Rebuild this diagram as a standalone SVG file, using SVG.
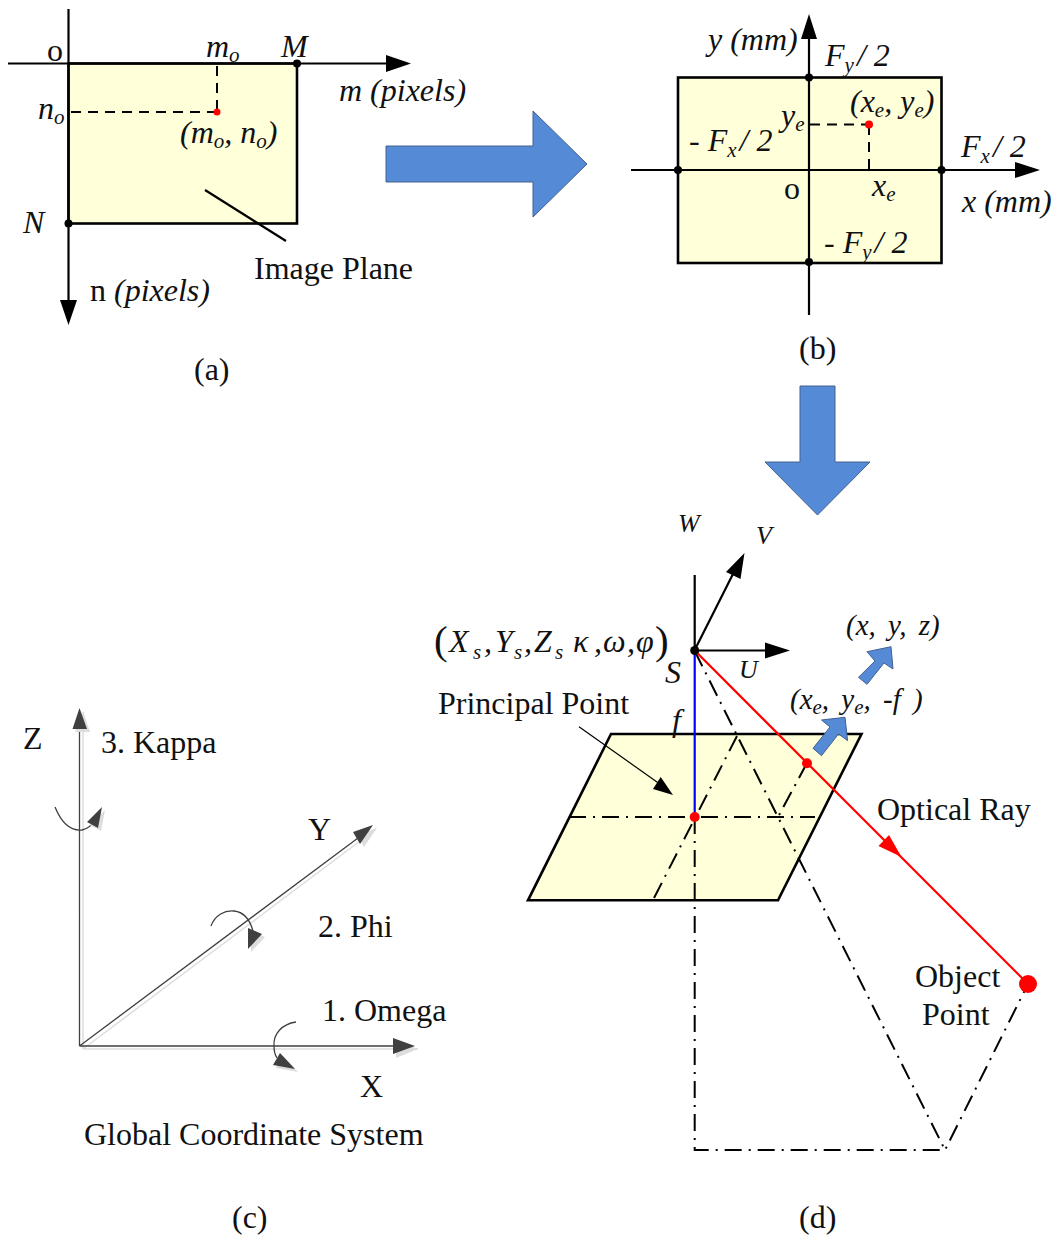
<svg xmlns="http://www.w3.org/2000/svg" width="1054" height="1238" viewBox="0 0 1054 1238">
<style>
text{font-family:"Liberation Serif","Times New Roman",serif;font-size:32px;fill:#111}
.i{font-style:italic}
.s{font-size:21px}
.n{font-style:normal}
.ax{stroke:#000;stroke-width:2.2;fill:none}
.pl{fill:#ffffd9;stroke:#000;stroke-width:2.6;stroke-linejoin:miter}
.da{stroke:#000;stroke-width:2;fill:none;stroke-dasharray:10 7}
.dd{stroke:#000;stroke-width:2;fill:none;stroke-dasharray:17 7 2 7}
.bl{fill:#558ad6;stroke:#44618f;stroke-width:1}
.dk{stroke:#404040;stroke-width:1.3;fill:none}
.sh{stroke:#ddd;stroke-width:1.5;fill:none}
.hd{fill:#404040}
.hs{fill:#ddd}
</style>
<g id="panel-a">
<rect class="pl" x="68.5" y="63.5" width="228.5" height="160"/>
<path class="ax" d="M8 63.5H388M68.5 9V302M205 190L286 241"/>
<path d="M386 55L411 63.5L386 72ZM60 300H77L68.5 325Z"/>
<path class="da" d="M217 66V112M217 112H70"/>
<circle cx="297" cy="63.5" r="4"/><circle cx="68.5" cy="223.5" r="4"/>
<circle cx="217" cy="112" r="3.5" fill="#f00"/>
<text x="47" y="61">o</text>
<text class="i" x="206" y="57">m<tspan class="s" dy="5">o</tspan></text>
<text class="i" x="281" y="57">M</text>
<text class="i" x="38" y="119">n<tspan class="s" dy="5">o</tspan></text>
<text class="i" x="180" y="143">(m<tspan class="s" dy="5">o</tspan><tspan dy="-5">, n</tspan><tspan class="s" dy="5">o</tspan><tspan dy="-5">)</tspan></text>
<text class="i" x="23" y="233">N</text>
<text class="i" x="339" y="101">m (pixels)</text>
<text x="90" y="301">n <tspan class="i">(pixels)</tspan></text>
<text x="254" y="279">Image Plane</text>
<text x="194" y="380">(a)</text>
</g>
<g id="arrow-right"><path class="bl" d="M386 146H533V111L587 164L533 217V182H386Z"/></g>
<g id="panel-b">
<rect class="pl" x="678" y="77.5" width="263.5" height="185.5"/>
<path class="ax" d="M631 170H1018M809 315V37"/>
<path d="M1015 162L1040 170L1015 178ZM801 39L809 14L817 39Z"/>
<path class="da" d="M810 124.5H869M869 125V170"/>
<circle cx="678" cy="170" r="4"/><circle cx="941.5" cy="170" r="4"/><circle cx="809" cy="77.5" r="4"/><circle cx="809" cy="262" r="4"/>
<circle cx="869" cy="124.5" r="4" fill="#f00"/>
<text class="i" x="708" y="50">y (mm)</text>
<text class="i" x="825" y="66">F<tspan class="s" dy="6">y</tspan><tspan dx="3" dy="-6">/ 2</tspan></text>
<text class="i" x="850" y="112">(x<tspan class="s" dy="5">e</tspan><tspan dy="-5">, y</tspan><tspan class="s" dy="5">e</tspan><tspan dy="-5">)</tspan></text>
<text class="i" x="781" y="126">y<tspan class="s" dy="5">e</tspan></text>
<text class="i" x="689" y="151">- F<tspan class="s" dy="6">x</tspan><tspan dx="3" dy="-6">/ 2</tspan></text>
<text class="i" x="961" y="157">F<tspan class="s" dy="6">x</tspan><tspan dx="3" dy="-6">/ 2</tspan></text>
<text x="784" y="199">o</text>
<text class="i" x="872" y="196">x<tspan class="s" dy="5">e</tspan></text>
<text class="i" x="962" y="212">x (mm)</text>
<text class="i" x="824" y="253">- F<tspan class="s" dy="6">y</tspan><tspan dx="3" dy="-6">/ 2</tspan></text>
<text x="799" y="359">(b)</text>
</g>
<g id="arrow-down"><path class="bl" d="M800 386H835V462H870L817.5 515L765 462H800Z"/></g>
<g id="panel-c">
<path class="sh" d="M83 1049V712M83 1049H418M83 1049L376 829"/>
<path class="dk" d="M79.500 1046V722M79.500 1046H398M79.500 1046L358 838"/>
<path class="hs" d="M75 732L83 711L90 732ZM396 1041L418 1049L396 1058ZM357 835L377 828L364 847Z"/>
<path class="hd" d="M72.500 729L79.500 708L87 729ZM393 1038L415 1046L393 1054ZM353 832L373 825L360 844Z"/>
<path class="dk" d="M55 807C62 824 72 831 82 830C88 829 92 825 95 820"/>
<path class="dk" d="M211 926C215 915 225 910 234 911C244 912 250 920 253 931"/>
<path class="dk" d="M296 1022C282 1024 273 1034 274 1046C274 1051 275 1055 277 1058"/>
<path class="hs" d="M90 825L105 810L101 831ZM251 931L265 937L251 952ZM283 1056L276 1068L298 1072Z"/>
<path class="hd" d="M87 822L102 807L98 828ZM248 928L262 934L248 949ZM280 1053L273 1065L295 1069Z"/>
<text x="23" y="749">Z</text>
<text x="101" y="753">3. Kappa</text>
<text x="308" y="840">Y</text>
<text x="318" y="937">2. Phi</text>
<text x="322" y="1021">1. Omega</text>
<text x="360" y="1097">X</text>
<text x="84" y="1145">Global Coordinate System</text>
<text x="232" y="1228">(c)</text>
</g>
<g id="panel-d">
<path class="pl" d="M611 734H861.500L778 900.300H528Z"/>
<path class="ax" d="M694.700 575V650M694.700 650L735 570M694.700 650.500H768"/>
<path d="M726 572L744.500 553L740.500 579ZM765 642.500L790 650.500L765 658.500Z"/>
<path class="dd" d="M569 817H815M694.700 817V1150H945L1028 984M694.700 651L945 1150M737 736L653 900M807 763L778 817"/>
<path stroke="#000" stroke-width="1.200" fill="none" d="M579 726.700L664 787"/>
<path d="M660.700 777L673 795L653 789Z"/>
<path stroke="#00f" stroke-width="2.200" d="M694.700 650V817"/>
<path stroke="#f00" stroke-width="2.200" d="M694.700 650.500L1028 984"/>
<path fill="#f00" d="M889 835L878.500 846L901.500 857Z"/>
<path class="bl" d="M891 646.700L867 651.700L875 661L858.500 677.300L867 684.300L884 663L893 669Z"/>
<path class="bl" d="M845 717.300L821.500 720L830 727L813 748.300L821.500 755.700L838.500 734L847.600 740.700Z"/>
<circle cx="694.700" cy="650.500" r="4.500"/>
<circle cx="694.700" cy="817" r="5" fill="#f00"/>
<circle cx="807" cy="763.300" r="5" fill="#f00"/>
<circle cx="1028" cy="984" r="9" fill="#f00"/>
<text class="i" x="678" y="532" style="font-size:26px">W</text>
<text class="i" x="756" y="544" style="font-size:26px">V</text>
<text class="i" x="739" y="678" style="font-size:26px">U</text>
<text class="i" x="846" y="635" style="font-size:29px" word-spacing="5">(x, y, z)</text>
<text class="i" x="790" y="709" style="font-size:29px" word-spacing="5">(x<tspan class="s" dy="5">e</tspan><tspan dy="-5">, y</tspan><tspan class="s" dy="5">e</tspan><tspan dy="-5">, -f )</tspan></text>
<text x="434" y="654" style="font-size:41px">(</text>
<text x="655" y="654" style="font-size:41px">)</text>
<text class="i" x="449" y="652">X</text>
<text class="i s" x="473" y="659">s</text>
<text class="i" x="484" y="652">,</text>
<text class="i" x="495" y="652">Y</text>
<text class="i s" x="514" y="659">s</text>
<text class="i" x="524" y="652">,</text>
<text class="i" x="534" y="652">Z</text>
<text class="i s" x="555" y="659">s</text>
<text class="i" x="573" y="652">κ</text>
<text class="i" x="594" y="652">,</text>
<text class="i" x="603" y="652">ω</text>
<text class="i" x="627" y="652">,</text>
<text class="i" x="636" y="652">φ</text>
<text class="i" x="665" y="683">S</text>
<text class="i" x="672" y="731">f</text>
<text x="438" y="714">Principal Point</text>
<text x="877" y="820">Optical Ray</text>
<text x="915" y="987">Object</text>
<text x="922" y="1025">Point</text>
<text x="799" y="1228">(d)</text>
</g>
</svg>
